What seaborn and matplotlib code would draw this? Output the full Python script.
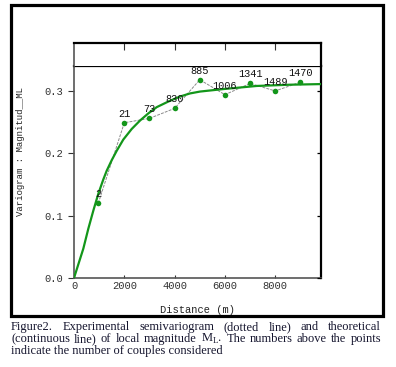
import numpy as np
import pandas as pd
import matplotlib
matplotlib.use("Agg")
import matplotlib.pyplot as plt
import seaborn as sns
from matplotlib.patches import Rectangle

# ---- data ----
distance = [966, 2000, 3000, 4000, 5000, 6000, 7000, 8000, 9000]
gamma = [0.120, 0.249, 0.256, 0.272, 0.318, 0.294, 0.312, 0.300, 0.314]
couples = ["2", "21", "73", "830", "885", "1006", "1341", "1489", "1470"]

model_dist = [0, 370, 569, 768, 966, 1165, 1300, 1500, 1698, 1960, 2294, 2624,
              2955, 3288, 3750, 4215, 4612, 5010, 5936, 7264, 8588, 9820]
model_gamma = [0.0, 0.047, 0.079, 0.108, 0.135, 0.158, 0.172, 0.189, 0.204,
               0.222, 0.239, 0.2525, 0.264, 0.274, 0.283, 0.291, 0.296, 0.299,
               0.303, 0.308, 0.310, 0.311]

x_ticks = [0, 2000, 4000, 6000, 8000]
y_ticks = [0.0, 0.1, 0.2, 0.3]
y_tick_labels = ["0.0", "0.1", "0.2", "0.3"]

caption_lines = [
    ["Figure2.", "Experimental", "semivariogram", "(dotted", "line)", "and", "theoretical"],
    ["(continuous", "line)", "of", "local", "magnitude", r"M$_{\mathrm{L}}$.", "The",
     "numbers", "above", "the", "points"],
    ["indicate the number of couples considered"],
]

sns.set_style("white")
plt.rcParams["mathtext.fontset"] = "custom"
plt.rcParams["mathtext.rm"] = "Liberation Serif"
plt.rcParams["font.family"] = ["DejaVu Sans"]

W, H = 396, 367
fig = plt.figure(figsize=(W / 100, H / 100), dpi=100)

def fx(px):
    return px / W

def fy(py):
    return 1 - py / H

mono = "Liberation Mono"
green = "#13961a"

# main axes
ax = fig.add_axes([fx(74), fy(278), fx(321) - fx(74), fy(66) - fy(278)])
exp_df = pd.DataFrame({"d": distance, "g": gamma})
mod_df = pd.DataFrame({"d": model_dist, "g": model_gamma})

sns.lineplot(data=exp_df, x="d", y="g", ax=ax, color="#8a8a8a", lw=0.7,
             linestyle=(0, (3, 1.2)), sort=False, zorder=2)
sns.lineplot(data=mod_df, x="d", y="g", ax=ax, color=green, lw=1.6, zorder=3)
sns.scatterplot(data=exp_df, x="d", y="g", ax=ax, color=green, s=16,
                edgecolor=green, linewidth=0, zorder=4)
for d, g, c in zip(distance, gamma, couples):
    ax.annotate(c, (d, g), xytext=(0, 6.5), textcoords="offset points",
                ha="center", va="center", fontsize=7.4, family=mono,
                color="#111111", zorder=5)

ax.set_xlim(0, 9820)
ax.set_ylim(0, 0.34)
ax.set_xticks(x_ticks)
ax.set_xticklabels([str(t) for t in x_ticks], family=mono, fontsize=7.6, color="#333333")
ax.set_yticks(y_ticks)
ax.set_yticklabels(y_tick_labels, family=mono, fontsize=7.6, color="#333333")
ax.set_xlabel("")
ax.set_ylabel("")
ax.tick_params(axis="y", which="both", left=True, right=False, direction="out",
               length=4.3, width=0.8, pad=3.5, color="#333333")
# right ticks inward
ax2 = ax.twinx()
ax2.set_ylim(0, 0.34)
ax2.set_yticks(y_ticks)
ax2.set_yticklabels([])
ax2.tick_params(axis="y", direction="in", length=3, width=0.9, color="black")
ax.tick_params(axis="x", bottom=True, direction="in", length=2, width=0.8, pad=2.5,
               color="#333333")
for sp in ["top", "right"]:
    ax.spines[sp].set_color("black")
    ax.spines[sp].set_linewidth(1.6)
for sp in ["left", "bottom"]:
    ax.spines[sp].set_color("#555555")
    ax.spines[sp].set_linewidth(1.2)
for sp in ["top", "right", "left", "bottom"]:
    ax2.spines[sp].set_visible(False)

# upper box
axu = fig.add_axes([fx(74), fy(66), fx(321) - fx(74), fy(43) - fy(66)])
axu.set_xlim(0, 9820)
axu.set_ylim(0, 1)
axu.set_xticks(x_ticks[1:])
axu.set_yticks([])
axu.tick_params(axis="x", bottom=False, top=True, labelbottom=False, direction="in",
                length=5, width=0.8, color="#333333")
axu.spines["top"].set_color("black")
axu.spines["top"].set_linewidth(1.6)
axu.spines["right"].set_color("black")
axu.spines["right"].set_linewidth(1.6)
axu.spines["left"].set_color("#555555")
axu.spines["left"].set_linewidth(1.2)
axu.spines["bottom"].set_visible(False)

# axis labels
fig.text(fx(197), fy(310), "Distance (m)", family=mono, fontsize=7.5,
         ha="center", va="center", color="#222222")
fig.text(fx(20.5), fy(152), "Variogram : Magnitud__ML", family=mono, fontsize=6.5,
         rotation=90, ha="center", va="center", color="#222222")

# outer frame
fig.patches.append(Rectangle((fx(11), fy(316)), fx(383) - fx(11), fy(5) - fy(316),
                             transform=fig.transFigure, fill=False,
                             edgecolor="black", linewidth=2.3, zorder=10))

# justified caption
fig.canvas.draw()
renderer = fig.canvas.get_renderer()
cap_color = "#15152e"
left_px, right_px = 11, 381
line_base = [330, 342, 354]
for i, words in enumerate(caption_lines):
    texts = [fig.text(0, fy(line_base[i]), w, family="Liberation Serif", fontsize=9,
                      color=cap_color, ha="left", va="baseline") for w in words]
    widths = [t.get_window_extent(renderer).width for t in texts]
    if len(words) > 1:
        gap = (right_px - left_px - sum(widths)) / (len(words) - 1)
    else:
        gap = 0
    x = left_px
    for t, w in zip(texts, widths):
        t.set_x(fx(x))
        x += w + gap

fig.savefig("out.png", dpi=100)
